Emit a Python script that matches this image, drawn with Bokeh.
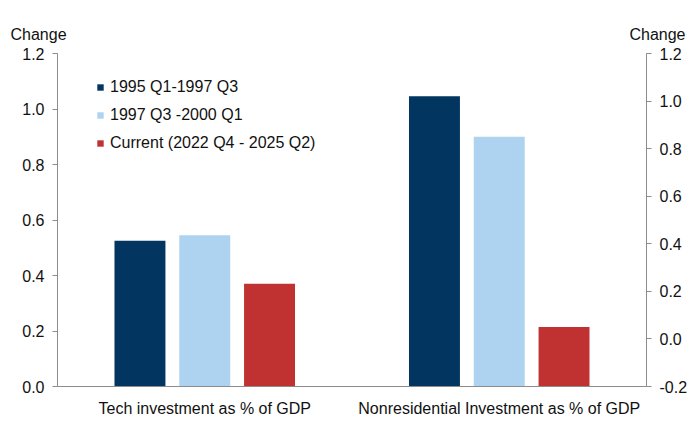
from bokeh.plotting import figure
from bokeh.layouts import column
from bokeh.models import FactorRange, Range1d, LinearAxis, ColumnDataSource, Label, FixedTicker
from bokeh.transform import dodge
from bokeh.embed import file_html
from bokeh.resources import INLINE

groups = ["Tech investment as % of GDP", "Nonresidential Investment as % of GDP"]
series = ["1995 Q1-1997 Q3", "1997 Q3 -2000 Q1", "Current (2022 Q4 - 2025 Q2)"]
colors = ["#02355F", "#ADD3F0", "#C03232"]
tech_left = [0.525, 0.545, 0.37]          # left axis
nonres_right = [1.02, 0.85, 0.05]          # right axis
left_ticks = [0.0, 0.2, 0.4, 0.6, 0.8, 1.0, 1.2]
right_ticks = [-0.2, 0.0, 0.2, 0.4, 0.6, 0.8, 1.0, 1.2]
LEFT_MIN, LEFT_MAX = 0.0, 1.2
RIGHT_MIN, RIGHT_MAX = -0.2, 1.2
axis_title = "Change"

FONT = "Liberation Sans"
TXT = "#111111"
AX = "#8c8c8c"
FS = "16px"
W = 690
HEAD_H = 45

# header strip carrying the two "Change" axis titles
head = figure(width=W, height=HEAD_H, x_range=Range1d(0, W), y_range=Range1d(0, HEAD_H),
              output_backend="svg", toolbar_location=None,
              x_axis_location=None, y_axis_location=None,
              min_border_left=0, min_border_right=0, min_border_top=0, min_border_bottom=0)
head.xgrid.visible = False
head.ygrid.visible = False
head.outline_line_color = None

p = figure(width=W, height=380, x_range=FactorRange(*groups),
           y_range=Range1d(LEFT_MIN, LEFT_MAX), output_backend="svg",
           toolbar_location=None, min_border_left=57, min_border_right=44,
           min_border_top=8, min_border_bottom=39)

aligned = True
try:
    head.frame_align = False
    p.frame_align = False
    aligned = False
except Exception:
    aligned = True

x0 = -57 if aligned else 0
head.add_layout(Label(x=10 + x0, y=11, x_units="screen", y_units="screen", text=axis_title,
                      text_font=FONT, text_font_size=FS, text_color=TXT,
                      text_baseline="middle", text_align="left"))
head.add_layout(Label(x=685 + x0, y=11, x_units="screen", y_units="screen", text=axis_title,
                      text_font=FONT, text_font_size=FS, text_color=TXT,
                      text_baseline="middle", text_align="right"))

p.extra_y_ranges = {"right": Range1d(RIGHT_MIN, RIGHT_MAX)}
p.add_layout(LinearAxis(y_range_name="right"), "right")

p.xgrid.visible = False
p.ygrid.visible = False
p.outline_line_color = None

offsets = [-0.22, 0.0, 0.22]
bw = 0.173
for i in range(3):
    src_l = ColumnDataSource(dict(group=[groups[0]], value=[tech_left[i]]))
    p.vbar(x=dodge("group", offsets[i], range=p.x_range), top="value", bottom=LEFT_MIN,
           width=bw, source=src_l, fill_color=colors[i], line_color=None,
           legend_label=series[i])
    src_r = ColumnDataSource(dict(group=[groups[1]], value=[nonres_right[i]]))
    p.vbar(x=dodge("group", offsets[i], range=p.x_range), top="value", bottom=RIGHT_MIN,
           width=bw, source=src_r, fill_color=colors[i], line_color=None,
           y_range_name="right")

p.xaxis.axis_line_color = AX
p.xaxis.major_tick_line_color = None
p.xaxis.minor_tick_line_color = None
p.xaxis.major_label_text_font = FONT
p.xaxis.major_label_text_font_size = FS
p.xaxis.major_label_text_color = TXT
p.xaxis.major_label_standoff = 7

for ax, ticks in ((p.left[0], left_ticks), (p.right[0], right_ticks)):
    ax.ticker = FixedTicker(ticks=ticks)
    ax.axis_line_color = AX
    ax.major_tick_line_color = AX
    ax.major_tick_out = 5
    ax.major_tick_in = 0
    ax.minor_tick_line_color = None
    ax.major_label_text_font = FONT
    ax.major_label_text_font_size = FS
    ax.major_label_text_color = TXT
    ax.major_label_standoff = 8
    ax.major_label_overrides = {t: f"{t:.1f}" for t in ticks}

lg = p.legend[0]
lg.location = (39, 233)
lg.padding = 0
lg.margin = 0
lg.spacing = 8
lg.label_height = 20
lg.glyph_width = 8
lg.glyph_height = 8
lg.label_standoff = 6
lg.border_line_color = None
lg.background_fill_alpha = 0
lg.label_text_font = FONT
lg.label_text_font_size = FS
lg.label_text_color = TXT

layout = column(head, p, spacing=0)
open("out.html", "w").write(file_html(layout, INLINE))
